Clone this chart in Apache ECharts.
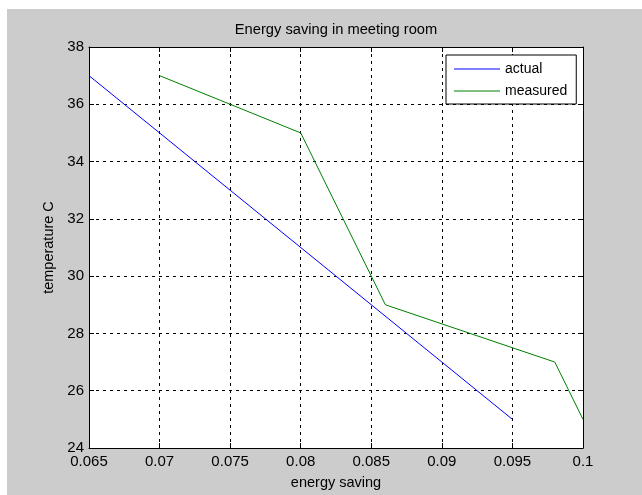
<!DOCTYPE html>
<html>
<head>
<meta charset="utf-8">
<script src="https://cdn.jsdelivr.net/npm/echarts@6/dist/echarts.min.js"></script>
<style>
  html, body { margin: 0; padding: 0; background: #ffffff; }
  #chart {
    width: 642px;
    height: 495px;
    background: linear-gradient(#cccccc, #cccccc) no-repeat 7px 9px / 635px 486px;
  }
</style>
</head>
<body>
<div id="chart"></div>
<script>
// data
const actualX = [0.065, 0.095];
const actualY = [37, 25];
const measuredX = [0.07, 0.08, 0.086, 0.098, 0.1];
const measuredY = [37, 35, 29, 27, 25];
const xMin = 0.065, xMax = 0.1, xStep = 0.005;
const yMin = 24, yMax = 38, yStep = 2;

const zip = (xs, ys) => xs.map((x, i) => [x, ys[i]]);
const font = "Liberation Sans, Arial, sans-serif";

const chart = echarts.init(document.getElementById("chart"));
const tickFmt = (v) => String(+v.toFixed(3));

let option = {
  backgroundColor: "transparent",
  animation: false,
  title: {
    text: "Energy saving in meeting room",
    left: 336,
    textAlign: "center",
    top: 22,
    padding: 0,
    textStyle: { fontFamily: font, fontSize: 14.7, fontWeight: "normal", color: "#000" },
  },
  legend: {
    orient: "vertical",
    left: 446,
    top: 55,
    padding: [6, 9, 5, 8],
    itemGap: 6,
    itemWidth: 46,
    itemHeight: 1,
    itemTextGap: 5,
    icon: "rect",
    backgroundColor: "#ffffff",
    borderColor: "#000000",
    borderWidth: 1,
    borderRadius: 0,
    textStyle: { fontFamily: font, fontSize: 14, color: "#000", lineHeight: 16 },
    data: ["actual", "measured"],
  },
  grid: {
    left: 89,
    right: 59,
    top: 47,
    bottom: 46,
    show: true,
    backgroundColor: "#ffffff",
    borderWidth: 0,
  },
  xAxis: [
    {
      type: "value",
      min: xMin,
      max: xMax,
      interval: xStep,
      name: "energy saving",
      nameLocation: "middle",
      nameGap: 27,
      nameTextStyle: { fontFamily: font, fontSize: 14.5, color: "#000" },
      axisLine: { show: true, lineStyle: { color: "#000", width: 1 } },
      axisTick: { show: true, inside: true, length: 5, lineStyle: { color: "#000" } },
      axisLabel: { fontFamily: font, fontSize: 15, color: "#000", margin: 6, formatter: tickFmt },
      splitLine: { show: true, lineStyle: { color: "#000", type: [3, 4], width: 1 } },
    },
    {
      type: "value",
      position: "top",
      min: xMin,
      max: xMax,
      interval: xStep,
      axisLine: { show: true, lineStyle: { color: "#000", width: 1 } },
      axisTick: { show: true, inside: true, length: 5, lineStyle: { color: "#000" } },
      axisLabel: { show: false },
      splitLine: { show: false },
    },
  ],
  yAxis: [
    {
      type: "value",
      min: yMin,
      max: yMax,
      interval: yStep,
      name: "temperature C",
      nameLocation: "middle",
      nameGap: 29,
      nameTextStyle: { fontFamily: font, fontSize: 14.5, color: "#000" },
      axisLine: { show: true, lineStyle: { color: "#000", width: 1 } },
      axisTick: { show: true, inside: true, length: 5, lineStyle: { color: "#000" } },
      axisLabel: { fontFamily: font, fontSize: 15, color: "#000", margin: 5 },
      splitLine: { show: true, lineStyle: { color: "#000", type: [3, 4], width: 1 } },
    },
    {
      type: "value",
      position: "right",
      min: yMin,
      max: yMax,
      interval: yStep,
      axisLine: { show: true, lineStyle: { color: "#000", width: 1 } },
      axisTick: { show: true, inside: true, length: 5, lineStyle: { color: "#000" } },
      axisLabel: { show: false },
      splitLine: { show: false },
    },
  ],
  series: [
    {
      name: "actual",
      type: "line",
      symbol: "none",
      color: "#0000ff",
      lineStyle: { width: 1, color: "#0000ff" },
      data: zip(actualX, actualY),
    },
    {
      name: "measured",
      type: "line",
      symbol: "none",
      color: "#008000",
      lineStyle: { width: 1, color: "#008000" },
      data: zip(measuredX, measuredY),
    },
  ],
};
chart.setOption(option, true);
</script>
</body>
</html>
